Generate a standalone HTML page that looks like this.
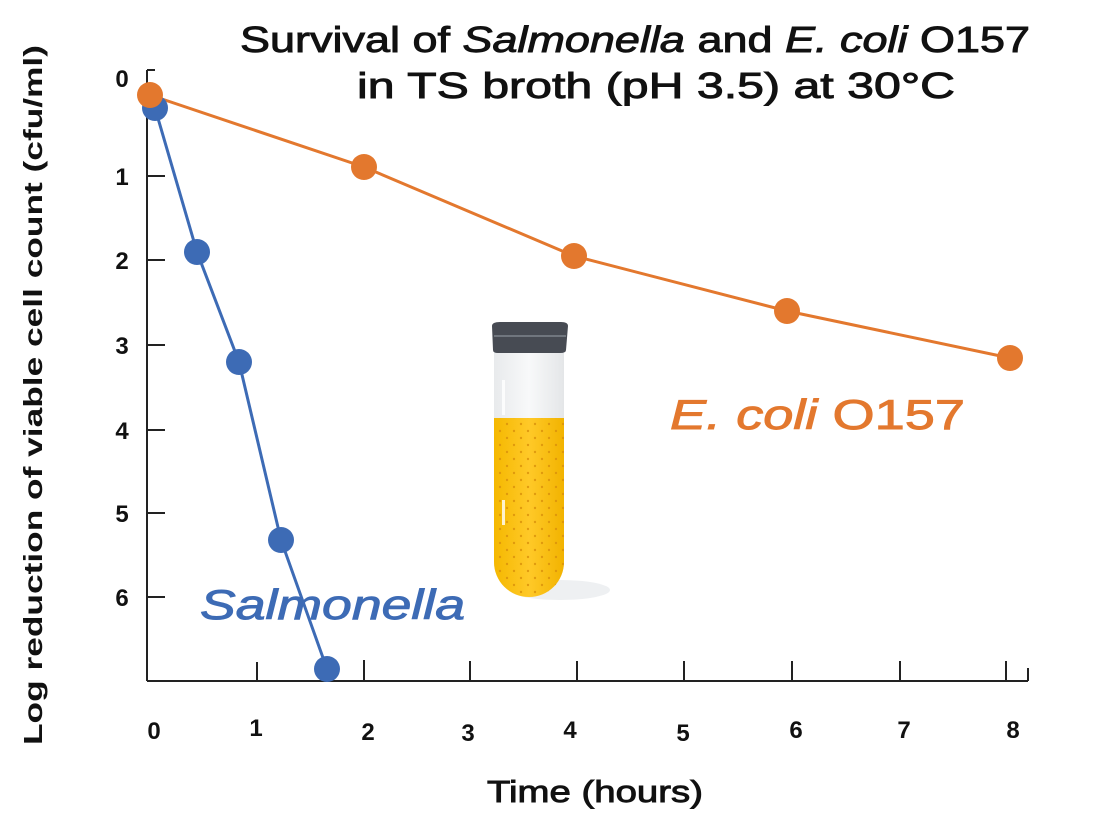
<!DOCTYPE html>
<html><head><meta charset="utf-8"><style>
html,body{margin:0;padding:0;background:#fff;}
svg{display:block;font-family:"Liberation Sans","DejaVu Sans",sans-serif;}
</style></head><body>
<svg width="1097" height="831" viewBox="0 0 1097 831" xmlns="http://www.w3.org/2000/svg">
<defs>
<linearGradient id="glass" x1="0" x2="1">
<stop offset="0" stop-color="#e8eaec"/><stop offset="0.5" stop-color="#f8f9fa"/><stop offset="1" stop-color="#e4e6e8"/>
</linearGradient>
<linearGradient id="liq" x1="0" x2="1">
<stop offset="0" stop-color="#f5b800"/><stop offset="0.5" stop-color="#ffc928"/><stop offset="1" stop-color="#f2b300"/>
</linearGradient>
<pattern id="dots" width="14" height="14" patternUnits="userSpaceOnUse">
<circle cx="3" cy="4" r="1.2" fill="#d9900a"/><circle cx="10" cy="11" r="1.2" fill="#d9900a"/>
</pattern>
</defs>
<text x="240" y="52" font-size="36" fill="#111" stroke="#111" stroke-width="0.9" textLength="790" lengthAdjust="spacingAndGlyphs">Survival of <tspan font-style="italic">Salmonella</tspan> and <tspan font-style="italic">E. coli</tspan> O157</text>
<text x="357" y="98" font-size="36" fill="#111" stroke="#111" stroke-width="0.9" textLength="598" lengthAdjust="spacingAndGlyphs">in TS  broth (pH 3.5) at 30°C</text>
<text transform="translate(42,745) rotate(-90)" font-size="26" font-weight="bold" fill="#111" textLength="700" lengthAdjust="spacingAndGlyphs">Log reduction of viable cell count  (cfu/ml)</text>
<text x="487" y="802" font-size="31" fill="#111" stroke="#111" stroke-width="0.9" textLength="216" lengthAdjust="spacingAndGlyphs">Time (hours)</text>
<g stroke="#222" stroke-width="2" fill="none">
<line x1="147" y1="70" x2="147" y2="681"/>
<line x1="147" y1="681" x2="1028" y2="681"/>
<line x1="147" y1="70" x2="155" y2="70"/>
<line x1="147" y1="176" x2="165" y2="176"/>
<line x1="147" y1="260" x2="165" y2="260"/>
<line x1="147" y1="345" x2="165" y2="345"/>
<line x1="147" y1="430" x2="165" y2="430"/>
<line x1="147" y1="513" x2="165" y2="513"/>
<line x1="147" y1="597" x2="165" y2="597"/>
<line x1="257" y1="681" x2="257" y2="662"/>
<line x1="364" y1="681" x2="364" y2="660"/>
<line x1="470" y1="681" x2="470" y2="661"/>
<line x1="577" y1="681" x2="577" y2="661"/>
<line x1="684" y1="681" x2="684" y2="661"/>
<line x1="792" y1="681" x2="792" y2="661"/>
<line x1="900" y1="681" x2="900" y2="661"/>
<line x1="1006" y1="681" x2="1006" y2="661"/>
<line x1="1028" y1="681" x2="1028" y2="668"/>
</g>
<g font-size="24" font-weight="bold" fill="#111" text-anchor="middle">
<text x="122" y="87">0</text><text x="122" y="185">1</text><text x="122" y="269">2</text>
<text x="122" y="354">3</text><text x="122" y="439">4</text><text x="122" y="522">5</text><text x="122" y="606">6</text>
<text x="154" y="739">0</text><text x="256" y="736">1</text><text x="368" y="740">2</text><text x="468" y="741">3</text>
<text x="570" y="738">4</text><text x="683" y="741">5</text><text x="796" y="738">6</text><text x="904" y="738">7</text><text x="1013" y="738">8</text>
</g>
<!-- test tube -->
<ellipse cx="560" cy="590" rx="50" ry="10" fill="#eef0f2"/>
<path d="M494 350 L494 562 A35 35 0 0 0 564 562 L564 350 Z" fill="url(#glass)"/>
<path d="M494 418 L494 562 A35 35 0 0 0 564 562 L564 418 Z" fill="url(#liq)"/>
<path d="M494 418 L494 562 A35 35 0 0 0 564 562 L564 418 Z" fill="url(#dots)" opacity="0.8"/>
<rect x="502" y="380" width="3" height="35" fill="#fff" opacity="0.8"/>
<rect x="502" y="500" width="3" height="25" fill="#fff" opacity="0.8"/>
<path d="M492 326 Q492 322 500 322 L561 322 Q568 322 568 326 L566 350 Q566 353 560 353 L498 353 Q493 353 493 350 Z" fill="#474b53"/>
<line x1="494" y1="336" x2="566" y2="336" stroke="#9aa0a8" stroke-width="1"/>
<!-- series -->
<polyline points="155,108 197,252 239,362 281,540 327,669" fill="none" stroke="#3d6bb5" stroke-width="3"/>
<polyline points="150,95 364,167 574,256 787,311 1010,358" fill="none" stroke="#e3782e" stroke-width="3"/>
<g fill="#3d6bb5">
<circle cx="155" cy="108" r="13"/><circle cx="197" cy="252" r="13"/><circle cx="239" cy="362" r="13"/><circle cx="281" cy="540" r="13"/><circle cx="327" cy="669" r="13"/>
</g>
<g fill="#e3782e">
<circle cx="150" cy="95" r="13"/><circle cx="364" cy="167" r="13"/><circle cx="574" cy="256" r="13"/><circle cx="787" cy="311" r="13"/><circle cx="1010" cy="358" r="13"/>
</g>
<text x="200" y="619" font-size="42" font-style="italic" fill="#3d6bb5" stroke="#3d6bb5" stroke-width="0.9" textLength="265" lengthAdjust="spacingAndGlyphs">Salmonella</text>
<text x="670" y="429" font-size="42" fill="#e3782e" stroke="#e3782e" stroke-width="0.9" textLength="295" lengthAdjust="spacingAndGlyphs"><tspan font-style="italic">E. coli</tspan> O157</text>
</svg>
</body></html>
